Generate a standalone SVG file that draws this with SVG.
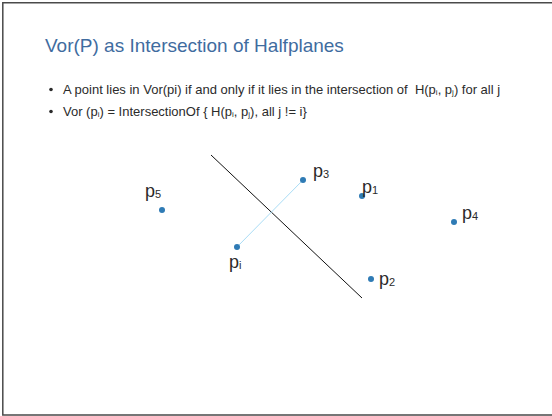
<svg xmlns="http://www.w3.org/2000/svg" width="552" height="416" viewBox="0 0 552 416">
<style>
.title{font-family:"Liberation Sans",Arial,sans-serif;font-size:19px;fill:#3f6c9f}
.body{font-family:"Liberation Sans",Arial,sans-serif;font-size:13px;fill:#2b2b2b}
.s{font-size:8px}
.lbl{font-family:"Liberation Sans",Arial,sans-serif;font-size:18px;fill:#2b2b2b}
.sub{font-size:11px}
.dot{fill:#2f7bb5}
</style>
<rect width="552" height="416" fill="#ffffff"/>
<g id="frame" fill="none" stroke="#4a4a4a" stroke-width="1.5">
<path d="M552,2.8 H2.8 V415 H552"/>
</g>
<g id="title"><text class="title" x="45" y="52">Vor(P) as Intersection of Halfplanes</text></g>
<g id="bullets">
<circle cx="51" cy="89.5" r="1.8" fill="#2b2b2b"/>
<text class="body" x="63" y="94" xml:space="preserve">A point lies in Vor(pi) if and only if it lies in the intersection of  H(p<tspan class="s" dy="1">i</tspan><tspan dy="-1">, p</tspan><tspan class="s" dy="1">j</tspan><tspan dy="-1">) for all j</tspan></text>
<circle cx="51" cy="111.5" r="1.8" fill="#2b2b2b"/>
<text class="body" x="63" y="116">Vor (p<tspan class="s" dy="1">i</tspan><tspan dy="-1">) = IntersectionOf { H(p</tspan><tspan class="s" dy="1">i</tspan><tspan dy="-1">, p</tspan><tspan class="s" dy="1">j</tspan><tspan dy="-1">), all j != i}</tspan></text>
</g>
<g id="connectors">
<line x1="211" y1="155" x2="362" y2="298" stroke="#111" stroke-width="1"/>
<line x1="237" y1="247" x2="303" y2="180" stroke="#a9dcf5" stroke-width="1"/>
</g>
<g id="p5"><circle class="dot" cx="162" cy="210" r="3"/><text class="lbl" x="145" y="197">p<tspan class="sub" dy="1">5</tspan></text></g>
<g id="p3"><circle class="dot" cx="303" cy="180" r="3"/><text class="lbl" x="313" y="177">p<tspan class="sub" dy="1">3</tspan></text></g>
<g id="p1"><circle class="dot" cx="362" cy="196" r="3"/><text class="lbl" x="362" y="193">p<tspan class="sub" dy="1">1</tspan></text></g>
<g id="pi"><circle class="dot" cx="237" cy="247" r="3"/><text class="lbl" x="229" y="268">p<tspan class="sub" dy="1">i</tspan></text></g>
<g id="p2"><circle class="dot" cx="371" cy="279" r="3"/><text class="lbl" x="379" y="285">p<tspan class="sub" dy="1">2</tspan></text></g>
<g id="p4"><circle class="dot" cx="454" cy="222" r="3"/><text class="lbl" x="462" y="219">p<tspan class="sub" dy="1">4</tspan></text></g>
</svg>
